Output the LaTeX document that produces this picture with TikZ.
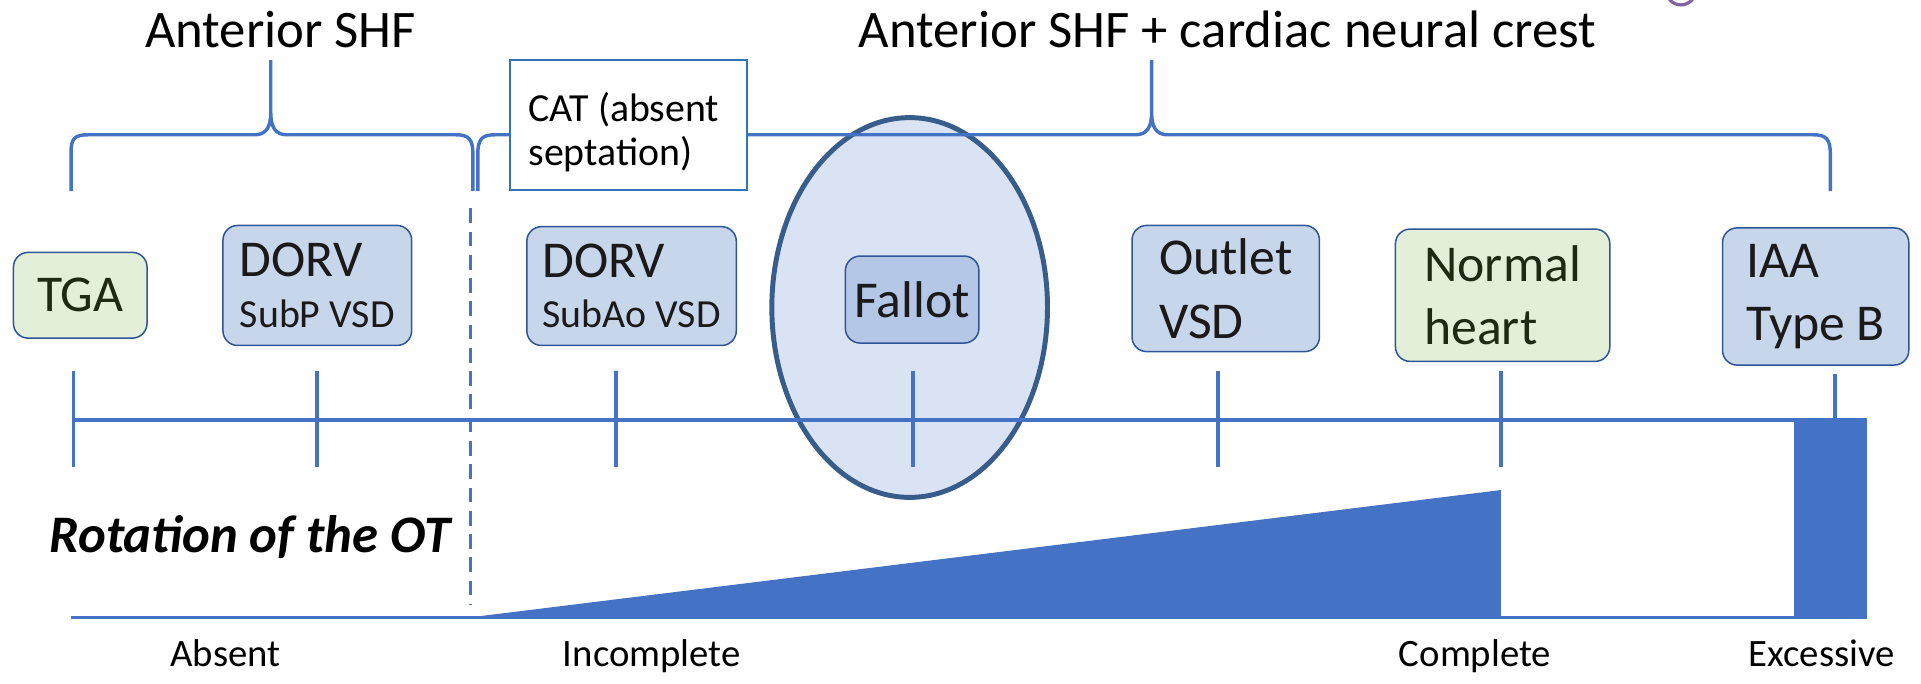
\documentclass[tikz,border=0pt]{standalone}
\usepackage{fontspec}
\setmainfont{Carlito}
\usetikzlibrary{shapes.geometric}

\definecolor{shfblue}{HTML}{4472C4}
\definecolor{boxedge}{HTML}{2F5597}
\definecolor{lesionfill}{HTML}{C8D6EC}
\definecolor{healthyfill}{HTML}{E2EFD9}
\definecolor{fallotfill}{HTML}{B4C7E7}
\definecolor{zonefill}{HTML}{DAE3F3}
\definecolor{zoneedge}{HTML}{385D8A}
\definecolor{catedge}{HTML}{2E75B6}
\definecolor{inkdark}{HTML}{1A1A1A}
\definecolor{inkgreen}{HTML}{1E2A12}
\definecolor{markpurple}{HTML}{8064A2}

\newcommand\titlefont{\fontsize{24.5}{29.5}\selectfont}
\newcommand\boxfont{\fontsize{24}{29.5}\selectfont}
\newcommand\subfont{\fontsize{18.5}{20.5}\selectfont}
\newcommand\scalefont{\fontsize{18}{21}\selectfont}

\tikzset{
  lesion/.style={draw=boxedge, line width=0.7pt, rounded corners=2.4mm, fill=lesionfill,
    text=inkdark, inner sep=0pt, align=left, font=\boxfont},
  healthy/.style={lesion, fill=healthyfill, text=inkgreen},
  axisline/.style={shfblue, line width=1.8pt},
  bracket/.style={shfblue, line width=1.6pt},
}

\begin{document}
\begin{tikzpicture}[x=0.2mm, y=-0.2mm]
      \def\px{0.2mm}
      \useasboundingbox (0,0) rectangle (1568,558);

      \draw[markpurple, line width=1.5pt] (1372,-8) circle (12*\px);

      % titles over the two brackets
      \node[font=\titlefont, anchor=base] (ashf) at (229,39) {Anterior SHF};
      \node[font=\titlefont, anchor=base] (ashfncc) at (1002,39) {Anterior SHF + cardiac neural crest};

      \node[ellipse, draw=zoneedge, line width=2.3pt, fill=zonefill, inner sep=0pt,
            minimum width=225*\px, minimum height=310*\px] (zone) at (742.5,251) {};

      % brackets
      \draw[bracket] (58,156) -- (58,124) .. controls (58,113) and (61,110) .. (72,110) -- (208,110)
            .. controls (217,110) and (221,104) .. (221,92) -- (221,49) -- (221,92)
            .. controls (221,104) and (225,110) .. (234,110) -- (372,110)
            .. controls (383,110) and (386,114) .. (386,126) -- (386,156);
      \draw[bracket] (390,156) -- (390,126) .. controls (390,114) and (393,110) .. (404,110) -- (927,110)
            .. controls (936,110) and (940,104) .. (940,92) -- (940,49) -- (940,92)
            .. controls (940,104) and (944,110) .. (953,110) -- (1480,110)
            .. controls (1491,110) and (1494,114) .. (1494,126) -- (1494,156);

      \node[draw=catedge, line width=0.85pt, fill=white, inner sep=0pt,
            minimum width=194*\px, minimum height=106*\px] (cat) at (513,102) {};
      \node[font=\subfont, align=left, inner sep=0pt, anchor=north west] (cattext) at (431,75) {CAT (absent\\septation)};

      \draw[shfblue, line width=1.8pt, dash pattern=on 2.4mm off 1.4mm] (384,170) -- (384,494);

      % axis and ticks
      \draw[axisline] (60,343) -- (1524,343);
      \foreach \x in {60,259,503,745,994,1225} {
            \draw[axisline] (\x,303) -- (\x,381);
      }
      \draw[axisline] (1498,305) -- (1498,343);

      \node[healthy, minimum width=109*\px, minimum height=70*\px] (tga) at (65.5,241) {TGA};
      \node[lesion, minimum width=154*\px, minimum height=98*\px] (dorvp) at (259,233) {DORV\\[-6pt]{\subfont SubP VSD}};
      \node[lesion, minimum width=171*\px, minimum height=97*\px] (dorvao) at (515.5,233.5) {DORV\\[-6pt]{\subfont SubAo VSD}};
      \node[lesion, fill=fallotfill, minimum width=109*\px, minimum height=71*\px] (fallot) at (744.5,244.5) {Fallot};
      \node[lesion, minimum width=153*\px, minimum height=103*\px] (outlet) at (1000.5,235.5) {Outlet\\VSD};
      \node[healthy, minimum width=175*\px, minimum height=108*\px] (normal) at (1226.5,241) {Normal\\heart};
      \node[lesion, minimum width=152*\px, minimum height=112*\px] (iaa) at (1482,242) {IAA\\Type B};

      % rotation of the outflow tract
      \node[font=\titlefont\bfseries\itshape, anchor=base west, inner sep=0pt] (rot) at (40,451) {Rotation of the OT};
      \draw[axisline] (58,504) -- (1464,504);
      \fill[shfblue] (383,504) -- (1225,400) -- (1225,505) -- cycle;
      \fill[shfblue] (1464,342) rectangle (1524,505);

      \foreach \x/\lab in {184/Absent,532/Incomplete,1204/Complete,1487/Excessive} {
            \node[font=\scalefont, anchor=base] (\lab) at (\x,544) {\lab};
      }
\end{tikzpicture}
\end{document}
